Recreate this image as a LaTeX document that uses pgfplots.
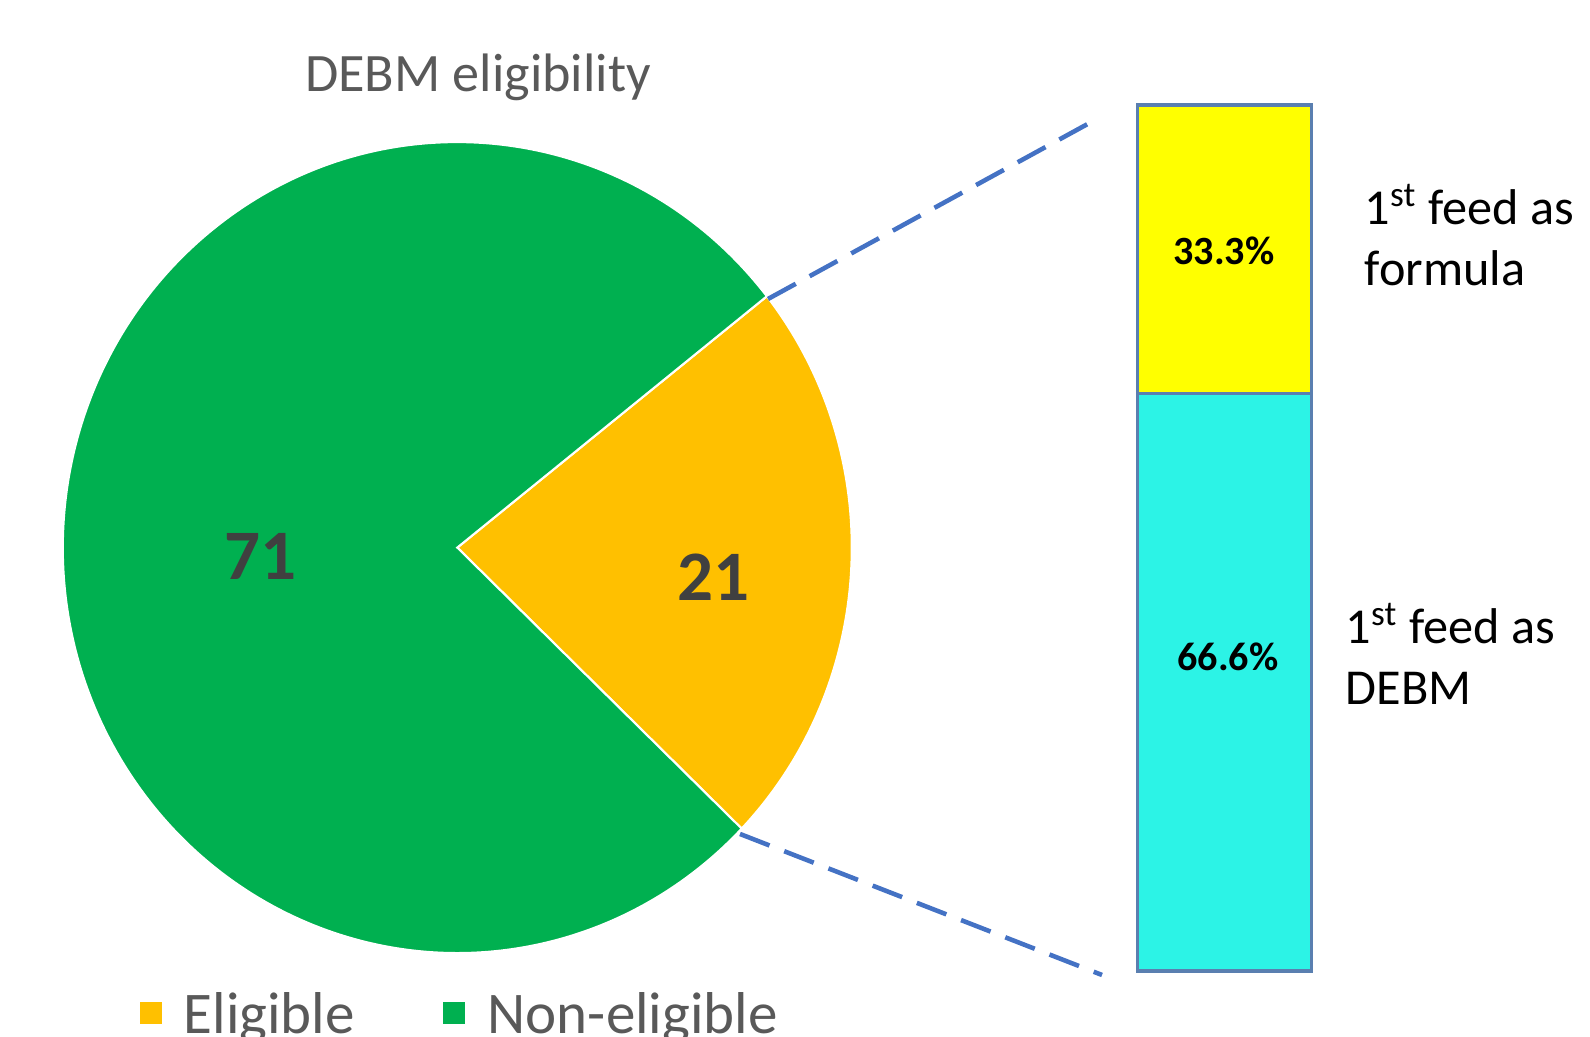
\documentclass[border=0pt]{standalone}
\usepackage{fontspec}
\setmainfont{Carlito}
\usepackage{pgfplots}
\pgfplotsset{compat=1.18}
\definecolor{pgreen}{HTML}{00B050}
\definecolor{porange}{HTML}{FFC000}
\definecolor{byellow}{HTML}{FFFF00}
\definecolor{bcyan}{HTML}{2CF3E6}
\definecolor{bedge}{HTML}{5A7FB0}
\definecolor{dline}{HTML}{4472C4}
\definecolor{tgray}{HTML}{595959}
\definecolor{ngray}{HTML}{404040}
\begin{document}
\begin{tikzpicture}
\useasboundingbox (0,0) rectangle (159mm,103.7mm);
\clip (0,0) rectangle (159mm,103.7mm);
% values of the pie
\def\vElig{21}
\def\vNon{71}
\pgfmathsetmacro{\startang}{38.3}
\pgfmathsetmacro{\spanE}{360*\vElig/(\vElig+\vNon)}
\pgfmathsetmacro{\endE}{\startang-\spanE}
\pgfmathsetmacro{\endN}{\startang+360-\spanE}
% stacked bar (drawn first so that labels lie on top)
\begin{axis}[
  at={(113.75mm,6.6mm)}, anchor=south west,
  x=17.4mm, y=0.86687mm,
  xmin=0, xmax=1, ymin=0, ymax=99.9,
  hide axis, clip=false,
  ybar stacked, bar width=17.4mm,
]
\addplot[fill=bcyan, draw=bedge, line width=1pt] coordinates {(0.5,66.6)};
\addplot[fill=byellow, draw=bedge, line width=1pt] coordinates {(0.5,33.3)};
\end{axis}
\begin{axis}[
  x=0.1mm, y=0.1mm,
  xmin=0, xmax=1590, ymin=0, ymax=1037,
  hide axis, clip=false,
]
% pie wedges
\fill[porange, draw=white, line width=0.6pt] (axis cs:457.3,489.4) -- ++({39.45*cos(\startang)*1mm},{40.55*sin(\startang)*1mm}) arc[start angle=\startang, end angle=\endE, x radius=39.45mm, y radius=40.55mm] -- cycle;
\fill[pgreen, draw=white, line width=0.6pt] (axis cs:457.3,489.4) -- ++({39.45*cos(\startang)*1mm},{40.55*sin(\startang)*1mm}) arc[start angle=\startang, end angle=\endN, x radius=39.45mm, y radius=40.55mm] -- cycle;
\node[font=\fontsize{20.2}{24}\selectfont\bfseries, text=ngray, anchor=base] at (axis cs:260,457) {\vNon};
\node[font=\fontsize{20.2}{24}\selectfont\bfseries, text=ngray, anchor=base] at (axis cs:713,436) {\vElig};
% title
\node[font=\fontsize{15.4}{18}\selectfont, text=tgray, anchor=base] at (axis cs:478,945) {DEBM eligibility};
% connector lines
\draw[dline, line width=1.3pt, dash pattern=on 9pt off 4.5pt] (axis cs:768,738) -- (axis cs:1095,917);
\draw[dline, line width=1.3pt, dash pattern=on 9pt off 4.5pt] (axis cs:740,203) -- (axis cs:1102,62);
% legend
\fill[porange] (axis cs:140,13) rectangle (axis cs:162,35);
\node[font=\fontsize{16.8}{20}\selectfont, text=tgray, anchor=base west, inner sep=0pt] at (axis cs:183,3) {Eligible};
\fill[pgreen] (axis cs:443,13) rectangle (axis cs:465,35);
\node[font=\fontsize{16.8}{20}\selectfont, text=tgray, anchor=base west, inner sep=0pt] at (axis cs:487,3) {Non-eligible};
% side texts
\node[font=\fontsize{14.3}{17.4}\selectfont, anchor=base west, inner sep=0pt] at (axis cs:1364,812) {1\textsuperscript{st} feed as};
\node[font=\fontsize{14.3}{17.4}\selectfont, anchor=base west, inner sep=0pt] at (axis cs:1364,751) {formula};
\node[font=\fontsize{14.3}{17.4}\selectfont, anchor=base west, inner sep=0pt] at (axis cs:1345,393) {1\textsuperscript{st} feed as};
\node[font=\fontsize{14.3}{17.4}\selectfont, anchor=base west, inner sep=0pt] at (axis cs:1345,332) {DEBM};
% bar labels
\node[font=\fontsize{11.4}{14}\selectfont\bfseries, anchor=center] at (axis cs:1224,786) {33.3\%};
\node[font=\fontsize{11.4}{14}\selectfont\bfseries, anchor=center] at (axis cs:1228,380) {66.6\%};
\end{axis}
\end{tikzpicture}
\end{document}
